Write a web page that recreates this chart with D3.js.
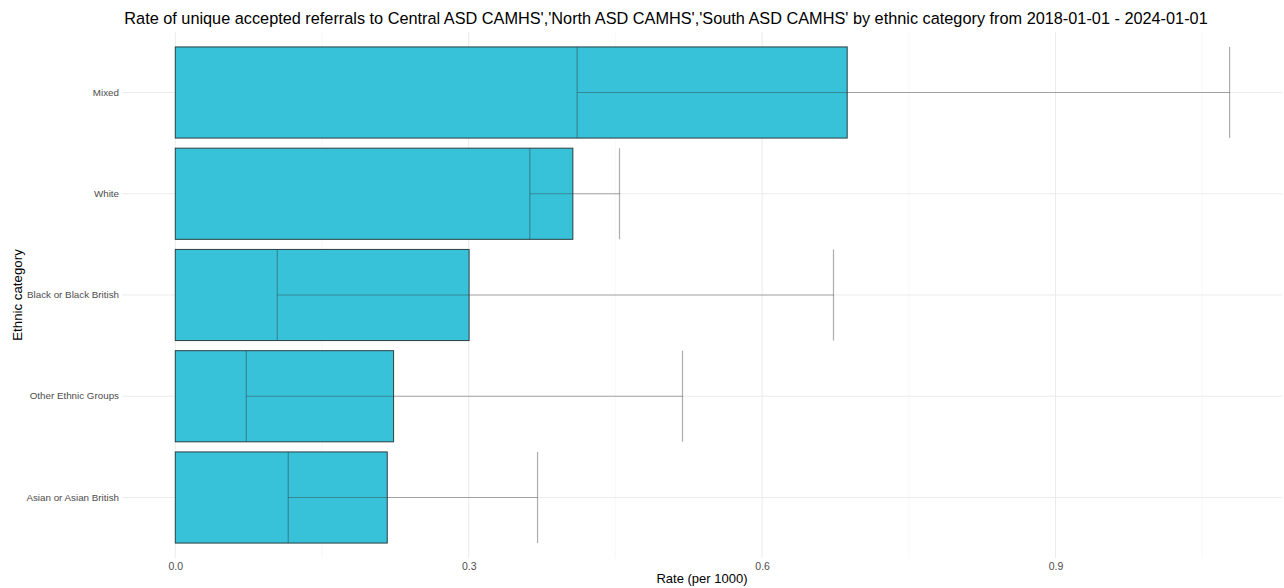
<!DOCTYPE html>
<html>
<head>
<meta charset="utf-8">
<script src="https://cdn.jsdelivr.net/npm/d3@7"></script>
<style>
  html, body { margin: 0; padding: 0; background: #fff; }
  svg { display: block; font-family: "Liberation Sans", Arial, sans-serif; }
</style>
</head>
<body>
<svg id="chart" width="1284" height="588"></svg>
<script>
const categories = ["Mixed", "White", "Black or Black British", "Other Ethnic Groups", "Asian or Asian British"];
const rates = [0.687, 0.4065, 0.3004, 0.2232, 0.2167];
const lowerCI = [0.4109, 0.3625, 0.1043, 0.0726, 0.1155];
const upperCI = [1.078, 0.4542, 0.6730, 0.5186, 0.3704];
const majorTicks = [0, 0.3, 0.6, 0.9];
const minorTicks = [0.15, 0.45, 0.75, 1.05];
const titleText = "Rate of unique accepted referrals to Central ASD CAMHS','North ASD CAMHS','South ASD CAMHS' by ethnic category from 2018-01-01 - 2024-01-01";

const data = categories.map((c, i) => ({ cat: c, rate: rates[i], lo: lowerCI[i], hi: upperCI[i] }));

const svg = d3.select("#chart");
const panel = { left: 122, right: 1282, top: 31.75, bottom: 558.25 };

const x = d3.scaleLinear().domain([0, 0.9]).range([175.3, 1055.5]);
const y = d3.scaleBand().domain(categories)
  .range([panel.top, panel.bottom]).paddingInner(0.1).paddingOuter(0.15);

// grid
const g = svg.append("g");
g.selectAll("line.minor").data(minorTicks).join("line")
  .attr("x1", d => x(d)).attr("x2", d => x(d))
  .attr("y1", panel.top).attr("y2", panel.bottom)
  .attr("stroke", "#f3f3f3").attr("stroke-width", 0.6);
g.selectAll("line.major").data(majorTicks).join("line")
  .attr("x1", d => x(d)).attr("x2", d => x(d))
  .attr("y1", panel.top).attr("y2", panel.bottom)
  .attr("stroke", "#ebebeb").attr("stroke-width", 1);
g.selectAll("line.hgrid").data(categories).join("line")
  .attr("x1", panel.left).attr("x2", panel.right)
  .attr("y1", d => y(d) + y.bandwidth() / 2).attr("y2", d => y(d) + y.bandwidth() / 2)
  .attr("stroke", "#ebebeb").attr("stroke-width", 1);

// bars
svg.append("g").selectAll("rect").data(data).join("rect")
  .attr("x", x(0)).attr("y", d => y(d.cat))
  .attr("width", d => x(d.rate) - x(0)).attr("height", y.bandwidth())
  .attr("fill", "#37c2d9")
  .attr("stroke", "#2a3f43").attr("stroke-width", 1);

// error bars
const eb = svg.append("g").attr("stroke", "#333").attr("stroke-opacity", 0.4).attr("stroke-width", 1.2);
data.forEach(d => {
  const y0 = y(d.cat), y1 = y(d.cat) + y.bandwidth(), ym = y0 + y.bandwidth() / 2;
  eb.append("line").attr("x1", x(d.lo)).attr("x2", x(d.hi)).attr("y1", ym).attr("y2", ym);
  eb.append("line").attr("x1", x(d.lo)).attr("x2", x(d.lo)).attr("y1", y0).attr("y2", y1);
  eb.append("line").attr("x1", x(d.hi)).attr("x2", x(d.hi)).attr("y1", y0).attr("y2", y1);
});

// axes
const xAxis = d3.axisBottom(x).tickValues(majorTicks).tickFormat(d3.format(".1f")).tickSize(0).tickPadding(4);
const xa = svg.append("g").attr("transform", `translate(0,${panel.bottom})`).call(xAxis);
xa.select(".domain").remove();
xa.selectAll("text").attr("font-size", 10.5).attr("fill", "#4d4d4d").attr("font-family", "Liberation Sans, Arial, sans-serif");

const yAxis = d3.axisLeft(y).tickSize(0).tickPadding(3);
const ya = svg.append("g").attr("transform", `translate(${panel.left},0)`).call(yAxis);
ya.select(".domain").remove();
ya.selectAll("text").attr("font-size", 9.8).attr("fill", "#4d4d4d").attr("font-family", "Liberation Sans, Arial, sans-serif");

// titles
svg.append("text").attr("x", 666).attr("y", 24).attr("text-anchor", "middle")
  .attr("font-size", 16.3).attr("fill", "#000").text(titleText);
svg.append("text").attr("x", 702).attr("y", 583).attr("text-anchor", "middle")
  .attr("font-size", 13).attr("fill", "#000").text("Rate (per 1000)");
svg.append("text").attr("transform", `translate(22,${(panel.top + panel.bottom) / 2}) rotate(-90)`)
  .attr("text-anchor", "middle").attr("font-size", 13.3).attr("fill", "#000").text("Ethnic category");
</script>
</body>
</html>
